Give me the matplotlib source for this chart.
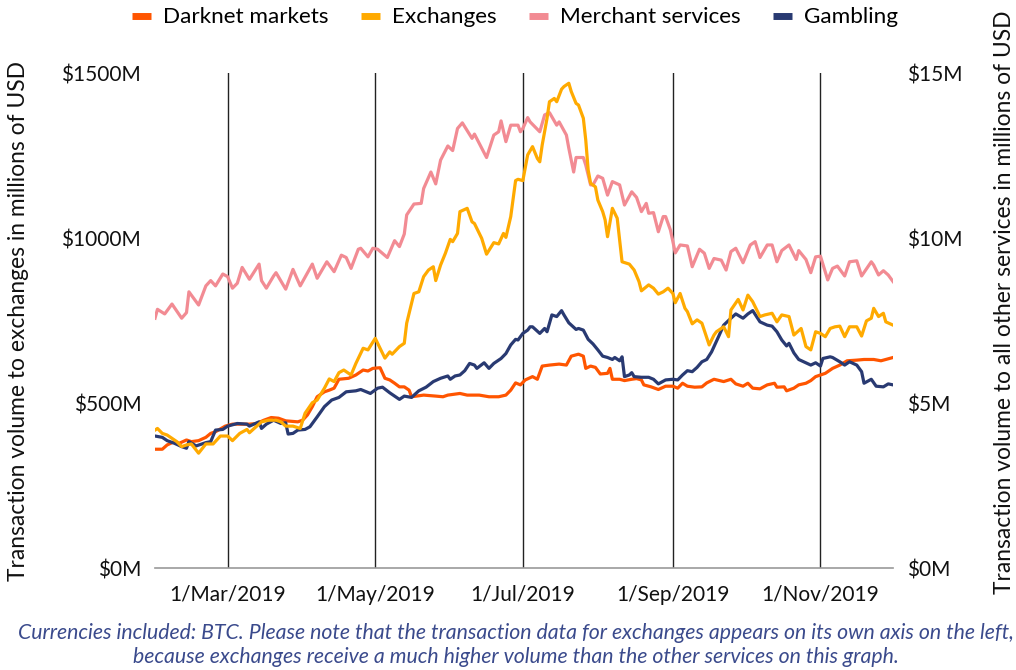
import numpy as np
import matplotlib
matplotlib.use("Agg")
import matplotlib.pyplot as plt
from matplotlib.lines import Line2D

plt.rcParams['font.family'] = ['Lato', 'DejaVu Sans']

start = np.datetime64('2019-01-30')

# Exchanges, $M (left axis)
exch_day = [0, 1, 3, 5, 9, 11, 13, 15, 18, 21, 24, 27, 30, 32, 35, 38, 39, 42, 44, 47,
            50, 52, 54, 57, 60, 62, 65, 67, 70, 72, 74, 76, 78, 81, 83, 86, 88, 91, 92, 95,
            97, 98, 101, 103, 104, 106, 107, 109, 111, 113, 115, 116, 118, 120, 122, 123, 125, 126, 129, 131,
            132, 135, 137, 140, 142, 144, 145, 147, 149, 150, 152, 154, 156, 158, 159, 160, 162, 163, 165, 166,
            168, 169, 171, 172, 174, 175, 177, 178, 179, 180, 182, 183, 185, 186, 187, 189, 191, 192, 193, 196,
            198, 200, 201, 204, 206, 208, 210, 212, 214, 215, 217, 219, 220, 222, 224, 226, 229, 231, 232, 235,
            237, 238, 241, 243, 245, 247, 250, 252, 255, 257, 259, 262, 264, 267, 269, 271, 273, 275, 277, 279,
            281, 283, 285, 287, 290, 292, 294, 296, 297, 299, 301, 302, 305]
exch_val = [418, 423, 408, 403, 383, 368, 373, 376, 348, 376, 376, 400, 400, 386, 408, 420, 410, 430, 443, 448,
            448, 443, 430, 430, 423, 469, 501, 509, 545, 573, 565, 592, 600, 585, 620, 666, 661, 696, 681, 636,
            655, 648, 671, 681, 742, 802, 832, 837, 883, 903, 913, 871, 918, 954, 996, 989, 1014, 1080, 1090, 1049,
            1044, 999, 951, 986, 982, 1014, 1002, 1065, 1174, 1178, 1174, 1252, 1277, 1241, 1231, 1282, 1363, 1413, 1423, 1413,
            1451, 1459, 1469, 1444, 1408, 1403, 1363, 1297, 1206, 1166, 1155, 1115, 1080, 1055, 1004, 1090, 1060, 994, 928, 921,
            903, 868, 840, 858, 848, 830, 837, 848, 832, 804, 832, 787, 777, 740, 752, 742, 676, 706, 716, 731,
            701, 782, 814, 782, 827, 807, 762, 767, 772, 746, 767, 762, 706, 726, 671, 661, 716, 711, 701, 726,
            731, 733, 701, 731, 731, 703, 749, 757, 787, 762, 772, 746, 736]

# Merchant services, $M (right axis)
merch_day = [0, 1, 4, 7, 11, 13, 14, 18, 21, 23, 25, 28, 30, 32, 34, 36, 39, 43, 44, 46,
             49, 50, 54, 57, 60, 65, 67, 71, 74, 77, 79, 81, 84, 85, 88, 90, 92, 96, 99, 101,
             103, 104, 107, 110, 111, 114, 116, 118, 121, 123, 125, 127, 131, 132, 135, 137, 140, 142, 143, 145,
             147, 150, 151, 152, 154, 155, 159, 161, 163, 166, 167, 170, 171, 173, 174, 177, 178, 180, 181, 183,
             185, 187, 189, 192, 194, 197, 199, 201, 203, 204, 206, 208, 210, 211, 213, 215, 217, 220, 222, 225,
             227, 229, 231, 234, 236, 238, 240, 243, 246, 248, 250, 253, 255, 257, 259, 262, 265, 266, 269, 271,
             273, 275, 278, 280, 282, 285, 287, 290, 292, 296, 297, 299, 301, 303, 305]
merch_val = [7.57, 7.84, 7.70, 8.00, 7.57, 7.74, 8.37, 7.97, 8.55, 8.71, 8.55, 8.91, 8.83, 8.48, 8.63, 9.11, 8.75, 9.21, 8.71, 8.48,
             8.85, 8.95, 8.45, 9.05, 8.55, 9.21, 8.78, 9.28, 8.98, 9.48, 9.41, 9.08, 9.66, 9.69, 9.43, 9.69, 9.66, 9.41, 9.92, 9.74,
             10.12, 10.70, 11.03, 11.05, 11.50, 12.00, 11.64, 12.36, 12.79, 12.65, 13.32, 13.49, 13.02, 13.15, 12.72, 12.44, 13.12, 13.22, 13.55, 12.92,
             13.42, 13.42, 13.22, 13.32, 13.65, 13.52, 13.22, 13.73, 13.80, 13.42, 13.52, 13.12, 12.72, 12.00, 12.44, 12.44, 12.21, 11.61, 11.61, 11.88,
             11.81, 11.30, 11.71, 11.61, 11.00, 11.40, 11.23, 10.80, 11.05, 10.75, 10.77, 10.19, 10.65, 10.65, 10.24, 9.55, 9.79, 9.76, 9.13, 9.66,
             9.54, 9.08, 9.38, 9.33, 9.03, 9.59, 9.69, 9.25, 9.79, 9.89, 9.41, 9.79, 9.79, 9.28, 9.62, 9.79, 9.35, 9.62, 9.35, 8.95,
             9.43, 9.45, 8.73, 9.08, 9.15, 8.85, 9.28, 9.31, 8.85, 9.28, 9.18, 8.88, 9.01, 8.88, 8.68]

# Darknet markets, $M (right axis)
dark_day = [0, 3, 5, 8, 10, 13, 15, 18, 21, 23, 25, 29, 32, 35, 39, 42, 45, 48, 51, 54,
            59, 61, 63, 65, 67, 70, 72, 74, 76, 80, 83, 86, 88, 90, 93, 95, 97, 99, 101, 103,
            105, 106, 108, 111, 116, 119, 121, 126, 129, 134, 138, 142, 145, 147, 149, 151, 153, 156, 158, 160,
            163, 167, 170, 172, 175, 177, 178, 180, 182, 184, 187, 188, 189, 192, 194, 197, 199, 201, 202, 205,
            208, 211, 214, 216, 218, 220, 223, 226, 228, 231, 235, 238, 240, 243, 245, 247, 250, 253, 256, 257,
            260, 261, 264, 266, 269, 271, 273, 277, 280, 283, 286, 290, 293, 297, 300, 302, 305]
dark_val = [3.60, 3.60, 3.73, 3.83, 3.78, 3.88, 3.83, 3.86, 3.96, 4.08, 4.13, 4.30, 4.36, 4.36, 4.36, 4.38, 4.48, 4.56, 4.54, 4.46,
            4.43, 4.48, 4.64, 4.89, 5.19, 5.34, 5.39, 5.45, 5.72, 5.75, 5.85, 6.00, 5.97, 6.05, 6.07, 5.75, 5.70, 5.60, 5.49, 5.49,
            5.39, 5.19, 5.21, 5.24, 5.21, 5.19, 5.24, 5.29, 5.24, 5.24, 5.19, 5.19, 5.24, 5.39, 5.61, 5.55, 5.70, 5.80, 5.72, 6.12,
            6.15, 6.18, 6.15, 6.42, 6.48, 6.42, 6.05, 6.12, 6.08, 5.88, 5.90, 6.05, 5.72, 5.72, 5.68, 5.72, 5.74, 5.70, 5.55, 5.49,
            5.41, 5.51, 5.51, 5.45, 5.60, 5.51, 5.48, 5.49, 5.61, 5.72, 5.65, 5.72, 5.58, 5.51, 5.60, 5.45, 5.43, 5.55, 5.60, 5.48,
            5.49, 5.37, 5.45, 5.55, 5.60, 5.68, 5.80, 5.90, 6.05, 6.15, 6.28, 6.30, 6.32, 6.32, 6.28, 6.32, 6.38]

# Gambling, $M (right axis)
gamb_day = [0, 3, 5, 8, 11, 13, 14, 17, 21, 23, 25, 28, 30, 34, 38, 39, 43, 44, 46, 49,
            52, 54, 55, 57, 59, 62, 64, 67, 70, 73, 76, 79, 83, 85, 89, 92, 94, 97, 101, 103,
            106, 109, 112, 115, 118, 121, 122, 124, 126, 128, 130, 132, 133, 136, 138, 140, 143, 145, 147, 149,
            150, 152, 154, 155, 156, 159, 161, 162, 164, 166, 168, 169, 171, 174, 175, 177, 179, 181, 183, 185,
            187, 189, 190, 192, 193, 194, 196, 197, 198, 201, 204, 206, 208, 211, 214, 216, 218, 220, 222, 224,
            226, 228, 230, 231, 233, 235, 238, 240, 243, 245, 247, 250, 253, 255, 257, 259, 261, 262, 264, 266,
            269, 271, 273, 275, 276, 279, 280, 283, 285, 287, 290, 292, 293, 296, 298, 301, 303, 305]
gamb_val = [4.00, 3.96, 3.86, 3.78, 3.68, 3.63, 3.83, 3.70, 3.80, 3.83, 4.18, 4.20, 4.30, 4.38, 4.36, 4.30, 4.43, 4.23, 4.36, 4.48,
            4.38, 4.40, 4.06, 4.08, 4.18, 4.20, 4.28, 4.58, 4.89, 5.09, 5.17, 5.34, 5.37, 5.41, 5.29, 5.45, 5.48, 5.31, 5.11, 5.21,
            5.17, 5.37, 5.48, 5.65, 5.75, 5.82, 5.72, 5.82, 5.85, 5.98, 6.20, 6.15, 6.05, 6.22, 6.05, 6.20, 6.35, 6.50, 6.76, 6.93,
            6.91, 7.11, 7.21, 7.31, 7.31, 7.11, 7.26, 7.16, 7.67, 7.62, 7.80, 7.67, 7.43, 7.23, 7.26, 7.21, 6.93, 6.79, 6.61, 6.42,
            6.38, 6.32, 6.38, 6.28, 6.40, 5.80, 5.85, 5.92, 5.80, 5.78, 5.78, 5.72, 5.58, 5.70, 5.72, 5.70, 5.85, 5.98, 5.95, 6.08,
            6.25, 6.32, 6.55, 6.71, 7.03, 7.36, 7.57, 7.70, 7.57, 7.70, 7.80, 7.46, 7.36, 7.33, 7.16, 6.91, 6.73, 6.81, 6.52, 6.32,
            6.22, 6.15, 6.22, 6.12, 6.35, 6.40, 6.38, 6.25, 6.15, 6.25, 6.15, 5.95, 5.60, 5.72, 5.51, 5.49, 5.58, 5.55]

tick_dates = ['2019-03-01', '2019-05-01', '2019-07-01', '2019-09-01', '2019-11-01']
tick_labels = ['1/Mar/2019', '1/May/2019', '1/Jul/2019', '1/Sep/2019', '1/Nov/2019']
left_ticks = [0, 500, 1000, 1500]
right_ticks = [0, 5, 10, 15]

c_dark = '#FF5500'
c_exch = '#FFAA00'
c_merch = '#F28B93'
c_gamb = '#293A72'


def dates(days):
    return start + np.array(days, dtype='timedelta64[D]')


fig = plt.figure(figsize=(10.16, 6.70), dpi=100)
ax = fig.add_axes([0.1526, 0.1522, 0.7264, 0.7388])
ax2 = ax.twinx()

lw = 2.3
ax2.plot(dates(merch_day), merch_val, color=c_merch, lw=lw)
ax2.plot(dates(dark_day), dark_val, color=c_dark, lw=lw)
ax2.plot(dates(gamb_day), gamb_val, color=c_gamb, lw=lw)
ax.plot(dates(exch_day), exch_val, color=c_exch, lw=lw, zorder=3)

# exchanges sit above the right-axis lines
ax.set_zorder(ax2.get_zorder() + 1)
ax.patch.set_visible(False)

tds = [np.datetime64(d) for d in tick_dates]
for d in tds:
    ax2.axvline(d, color='#222222', lw=1.0, zorder=0)

ax.set_xlim(start, start + np.timedelta64(305, 'D'))
ax.set_ylim(0, 1500)
ax2.set_ylim(0, 15)

ax.set_xticks(tds)
ax.set_xticklabels(tick_labels)
ax.set_yticks(left_ticks)
ax.set_yticklabels([f'${v}M' for v in left_ticks])
ax2.set_yticks(right_ticks)
ax2.set_yticklabels([f'${v}M' for v in right_ticks])

for a in (ax, ax2):
    for s in ('top', 'left', 'right', 'bottom'):
        a.spines[s].set_visible(False)
    a.tick_params(length=0, labelsize=15, colors='#111111')
ax.spines['bottom'].set_visible(True)
ax.spines['bottom'].set_color('#999999')
ax.spines['bottom'].set_linewidth(1.2)
ax.tick_params(axis='x', pad=12)
ax.tick_params(axis='y', pad=10)
ax2.tick_params(axis='y', pad=10)

fig.text(0.018, 0.521, 'Transaction volume to exchanges in millions of USD',
         rotation=90, ha='center', va='center', fontsize=16.4, color='#111111')
fig.text(0.989, 0.549, 'Transaction volume to all other services in millions of USD',
         rotation=90, ha='center', va='center', fontsize=16.4, color='#111111')

handles = [Line2D([], [], color=c, lw=5, solid_capstyle='butt') for c in (c_dark, c_exch, c_merch, c_gamb)]
names = ['Darknet markets', 'Exchanges', 'Merchant services', 'Gambling']
fig.legend(handles, names, loc='center', bbox_to_anchor=(0.507, 0.974), ncol=4,
           frameon=False, fontsize=16.2, handlelength=0.82, handletextpad=0.55, columnspacing=1.45)

note = ('Currencies included: BTC. Please note that the transaction data for exchanges appears on its own axis on the left,\n'
        'because exchanges receive a much higher volume than the other services on this graph.')
fig.text(0.508, 0.037, note, ha='center', va='center', fontsize=15.3, style='italic',
         color='#3A4A8C', linespacing=1.25)

fig.savefig('out.png', dpi=100)
